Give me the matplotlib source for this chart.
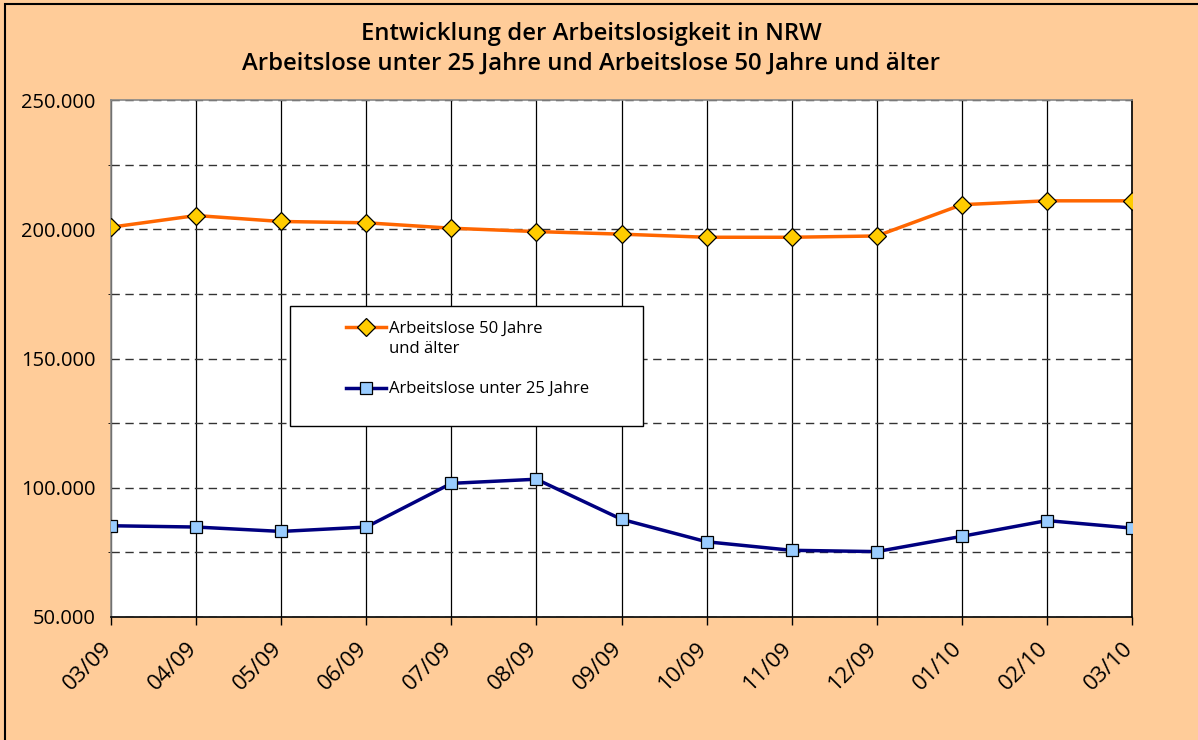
import matplotlib
matplotlib.use("Agg")
import matplotlib.pyplot as plt
import matplotlib.ticker as mticker
from matplotlib.patches import Rectangle
from matplotlib.transforms import ScaledTranslation

# Daten
monate = ["03/09", "04/09", "05/09", "06/09", "07/09", "08/09", "09/09",
          "10/09", "11/09", "12/09", "01/10", "02/10", "03/10"]
ab_50_jahre = [200800, 205300, 203000, 202500, 200400, 199100, 198100,
               196900, 196900, 197400, 209500, 211000, 211000]
unter_25_jahre = [85300, 84800, 83100, 84800, 101700, 103300, 87800,
                  79100, 75800, 75300, 81200, 87300, 84400]

titel = ("Entwicklung der Arbeitslosigkeit in NRW\n"
         "Arbeitslose unter 25 Jahre und Arbeitslose 50 Jahre und älter")
label_50 = ["Arbeitslose 50 Jahre", "und älter"]
label_25 = "Arbeitslose unter 25 Jahre"

plt.rcParams["font.family"] = ["Open Sans", "DejaVu Sans"]

W, H = 1198, 740
bg = "#FFCC99"
fig = plt.figure(figsize=(W / 100, H / 100), dpi=100, facecolor=bg)

# Rahmen des Diagrammbereichs (links/oben sichtbar)
fig.patches.append(Rectangle((5 / W, -0.1), 1.2, 1.1 - 4 / H,
                             transform=fig.transFigure, fill=False,
                             edgecolor="black", linewidth=1.5, zorder=0))

ax = fig.add_axes([111 / W, 123 / H, 1021 / W, 517 / H])
ax.set_facecolor("white")

x = list(range(len(monate)))
l50, = ax.plot(x, ab_50_jahre, color="#FF6600", linewidth=2.5, marker="D",
               markersize=9, markerfacecolor="#FFCC00", markeredgecolor="black",
               markeredgewidth=0.9, zorder=4)
l25, = ax.plot(x, unter_25_jahre, color="#000080", linewidth=2.5, marker="s",
               markersize=9, markerfacecolor="#99CCFF", markeredgecolor="black",
               markeredgewidth=0.9, zorder=4)

ax.set_xlim(0, len(monate) - 1)
ax.set_ylim(50000, 250000)
ax.set_xticks(x)
ax.set_xticklabels(monate, rotation=45, ha="right", rotation_mode="anchor",
                   fontsize=16)
ax.yaxis.set_major_locator(mticker.MultipleLocator(50000))
ax.yaxis.set_minor_locator(mticker.MultipleLocator(25000))
ax.yaxis.set_major_formatter(
    mticker.FuncFormatter(lambda v, p: f"{int(v):,}".replace(",", ".")))
ax.tick_params(axis="y", labelsize=14.5, length=0, pad=11)
ax.tick_params(axis="x", length=6, width=1, pad=9)

# Beschriftung etwas nach links versetzt wie im Original
shift = ScaledTranslation(-0.10, 0, fig.dpi_scale_trans)
for lbl in ax.get_xticklabels():
    lbl.set_transform(lbl.get_transform() + shift)

# Gitter: senkrecht durchgezogen, waagerecht gestrichelt
ax.grid(axis="x", color="black", linewidth=0.9, linestyle="-")
ax.grid(axis="y", which="both", color="#333333", linewidth=1.0,
        linestyle=(0, (6, 4)))
ax.set_axisbelow(True)

for s in ["left", "top"]:
    ax.spines[s].set_color("#888888")
    ax.spines[s].set_linewidth(1.2)
for s in ["right", "bottom"]:
    ax.spines[s].set_color("black")
    ax.spines[s].set_linewidth(1.2)

fig.text(591 / W, 1 - 49 / H, titel, ha="center", va="center",
         fontsize=17.2, fontweight="semibold", linespacing=1.3)

# Legende: Rahmen wie im Original, Eintraege ohne eigenen Rahmen
ax.add_patch(Rectangle(((290 - 111) / 1021, (617 - 426) / 517),
                       353 / 1021, 120 / 517, transform=ax.transAxes,
                       facecolor="white", edgecolor="black", linewidth=1.0,
                       zorder=5))
leg = ax.legend([l50, l25], [label_50[0], label_25],
                loc="upper left",
                bbox_to_anchor=((346 - 111) / 1021, (617 - 321) / 517),
                fontsize=12, frameon=False, handlelength=2.4,
                handletextpad=0.2, borderpad=0, borderaxespad=0,
                labelspacing=2.66)
leg.set_zorder(6)

fig.canvas.draw()
bb = leg.get_texts()[0].get_window_extent()
fig.text(bb.x0 / W, (bb.y0 - 20) / H + 0.5 * bb.height / H, label_50[1],
         ha="left", va="center", fontsize=12, zorder=7)

fig.savefig("out.png", dpi=100, facecolor=bg)
